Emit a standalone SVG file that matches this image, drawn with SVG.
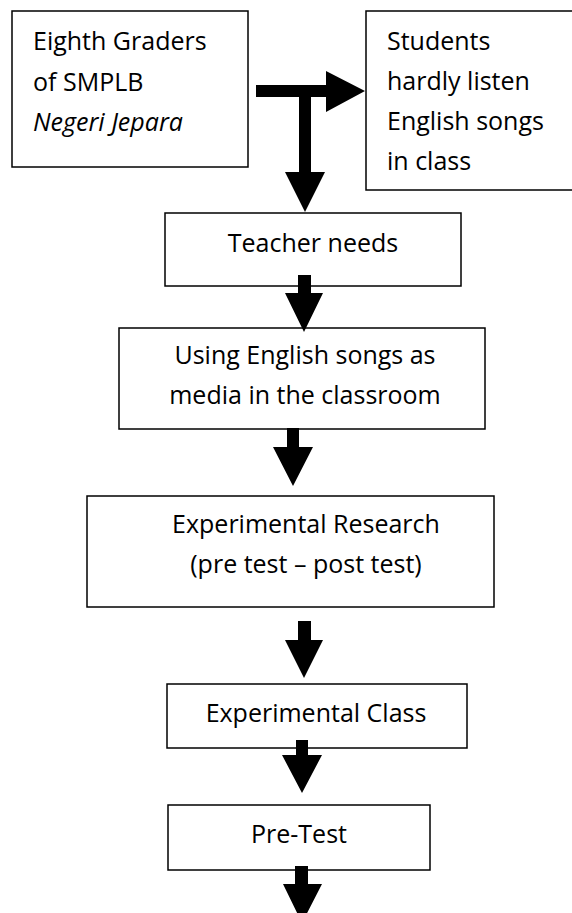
<svg xmlns="http://www.w3.org/2000/svg" width="572" height="913" viewBox="0 0 572 913">
<style>
.box{fill:#fff;stroke:#000;stroke-width:1.5}
.t{font-family:"Open Sans","Noto Sans",sans-serif;font-size:25px;fill:#000}
.c{text-anchor:middle}
.arr{fill:#000;stroke:none}
</style>
<rect width="572" height="913" fill="#fff"/>
<g id="n1">
<rect class="box" x="12" y="11" width="236" height="156"/>
<text class="t" x="33" y="50">Eighth Graders</text>
<text class="t" x="33" y="91">of SMPLB</text>
<text class="t" x="33" y="131" font-style="italic">Negeri Jepara</text>
</g>
<g id="n2">
<rect class="box" x="366" y="11" width="210" height="179"/>
<text class="t" x="387" y="50">Students</text>
<text class="t" x="387" y="90">hardly listen</text>
<text class="t" x="387" y="130">English songs</text>
<text class="t" x="387" y="170">in class</text>
</g>
<g id="n3">
<rect class="box" x="165" y="213" width="296" height="73"/>
<text class="t c" x="313" y="252">Teacher needs</text>
</g>
<g id="n4">
<rect class="box" x="119" y="328" width="366" height="101"/>
<text class="t c" x="305" y="364">Using English songs as</text>
<text class="t c" x="305" y="404">media in the classroom</text>
</g>
<g id="n5">
<rect class="box" x="87" y="496" width="407" height="111"/>
<text class="t c" x="306" y="533">Experimental Research</text>
<text class="t c" x="306" y="573">(pre test – post test)</text>
</g>
<g id="n6">
<rect class="box" x="167" y="684" width="300" height="64"/>
<text class="t c" x="316" y="722">Experimental Class</text>
</g>
<g id="n7">
<rect class="box" x="168" y="805" width="262" height="65"/>
<text class="t c" x="299" y="843">Pre-Test</text>
</g>
<g id="connectors">
<polygon class="arr" points="256,85 326,85 326,71 365,91 326,112 326,97 256,97"/>
<polygon class="arr" points="299,85 311,85 311,172 325,172 305,212 285,172 299,172"/>
<polygon class="arr" points="298,275 311,275 311,293 323,293 304,332 285,293 298,293"/>
<polygon class="arr" points="287,428 299,428 299,447 313,447 293,486 273,447 287,447"/>
<polygon class="arr" points="298,621 311,621 311,640 323,640 304,678 285,640 298,640"/>
<polygon class="arr" points="296,740 308,740 308,755 322,755 302,793 282,755 296,755"/>
<polygon class="arr" points="295,866 308,866 308,884 322,884 302,923 283,884 295,884"/>
</g>
</svg>
